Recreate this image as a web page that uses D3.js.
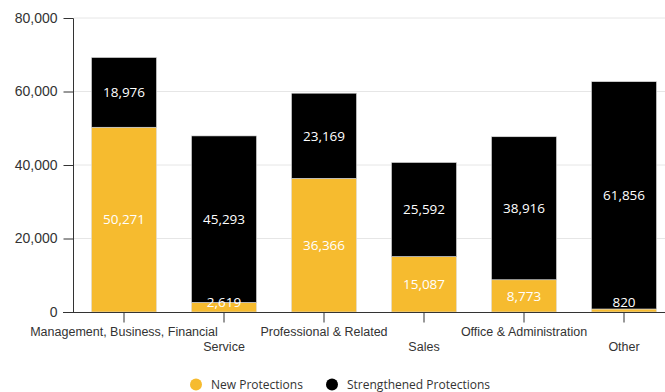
<!DOCTYPE html>
<html><head><meta charset="utf-8">
<script src="https://cdn.jsdelivr.net/npm/d3@7"></script>
<style>body{margin:0;background:#fff}svg{display:block;font-family:"Open Sans",Lato,sans-serif}</style>
</head><body><svg id="c" width="665" height="392"></svg>
<script>
const categories = ["Management, Business, Financial","Service","Professional & Related","Sales","Office & Administration","Other"];
const newProtections = [50271, 2619, 36366, 15087, 8773, 820];
const strengthened = [18976, 45293, 23169, 25592, 38916, 61856];
const seriesNames = ["New Protections","Strengthened Protections"];
const seriesColors = ["#F6BB2F","#000000"];
const yTicks = [0, 20000, 40000, 60000, 80000];

const svg = d3.select("#c");
const x = d3.scaleBand().domain(categories).range([74, 674]).paddingInner(0.35).paddingOuter(0.175);
const y = d3.scaleLinear().domain([0, 80000]).range([312, 18]);
const fmt = d3.format(",");

svg.append("g").selectAll("line").data(yTicks.filter(d=>d>0)).join("line")
  .attr("x1",74).attr("x2",665).attr("y1",d=>y(d)).attr("y2",d=>y(d))
  .attr("stroke","#e6e6e6").attr("stroke-width",1);

const rows = categories.map((c,i)=>({cat:c, "New Protections":newProtections[i], "Strengthened Protections":strengthened[i]}));
const stack = d3.stack().keys(seriesNames)(rows);

const g = svg.append("g");
stack.forEach((s,si)=>{
  g.append("g").selectAll("rect").data(s).join("rect")
    .attr("x",d=>x(d.data.cat)).attr("width",x.bandwidth())
    .attr("y",d=>y(d[1])).attr("height",d=>y(d[0])-y(d[1]))
    .attr("fill",seriesColors[si]).attr("stroke","#ddd").attr("stroke-width",0.6);
});
stack.forEach((s,si)=>{
  g.append("g").selectAll("text").data(s).join("text")
    .attr("x",d=>x(d.data.cat)+x.bandwidth()/2)
    .attr("y",d=>Math.min((y(d[0])+y(d[1]))/2, y(d[0])-10))
    .attr("dy","0.35em").attr("text-anchor","middle")
    .attr("fill","#fff").attr("font-size",13.5)
    .text(d=>fmt(d[1]-d[0]));
});

const ya = svg.append("g").attr("transform","translate(73.5,0)")
  .call(d3.axisLeft(y).tickValues(yTicks).tickFormat(fmt).tickSize(10).tickPadding(6));
ya.select(".domain").attr("stroke","#333").attr("d","M0,18.5V312.5");
ya.selectAll(".tick line").attr("stroke","#333");
ya.selectAll("text").attr("font-size",14).attr("fill","#333").attr("font-family","inherit");

const xa = svg.append("g").attr("transform","translate(0,312.5)")
  .call(d3.axisBottom(x).tickSize(10).tickPadding(4));
xa.select(".domain").attr("stroke","#333").attr("d","M63,0H665");
xa.selectAll(".tick line").attr("stroke","#333");
xa.selectAll("text").attr("font-size",12.5).attr("fill","#333").attr("font-family","inherit")
  .attr("dy",(d,i)=> i%2 ? "1.95em" : "0.75em");

const leg = svg.append("g");
const lx = [196, 332];
seriesNames.forEach((n,i)=>{
  leg.append("circle").attr("cx",lx[i]).attr("cy",384.5).attr("r",6).attr("fill",seriesColors[i]);
  leg.append("text").attr("x",lx[i]+15).attr("y",384.5).attr("dy","0.35em")
    .attr("font-size",12).attr("fill","#333").text(n);
});
</script></body></html>
